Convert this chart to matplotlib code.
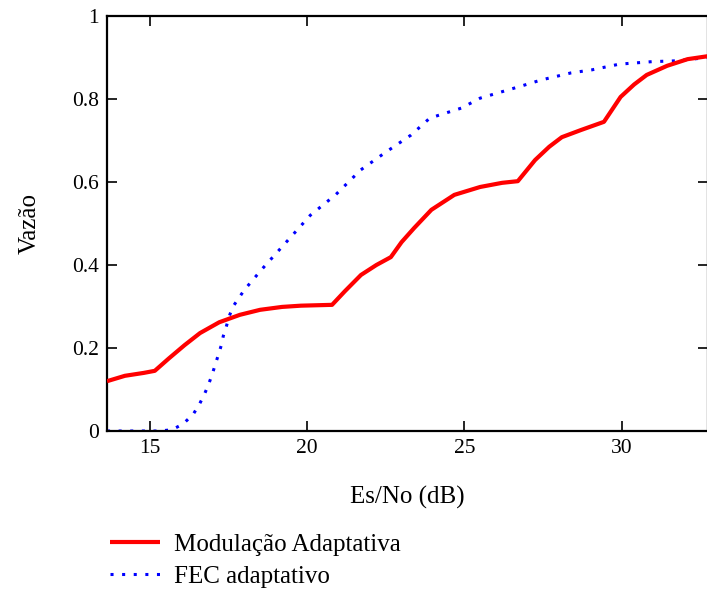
import matplotlib
matplotlib.use("Agg")
import matplotlib.pyplot as plt
import numpy as np

# Throughput vs Es/No for adaptive modulation and adaptive FEC
es_no_mod = [13.63, 14.2, 14.8, 15.15, 15.6, 16.1, 16.59, 17.2, 17.86, 18.5,
             19.2, 19.8, 20.79, 21.2, 21.71, 22.2, 22.66, 23.0, 23.4, 23.95,
             24.68, 25.5, 26.2, 26.7, 27.25, 27.7, 28.1, 28.7, 29.44, 29.97,
             30.4, 30.8, 31.45, 32.1, 32.73]
vazao_mod = [0.120, 0.133, 0.140, 0.145, 0.175, 0.207, 0.236, 0.262, 0.280, 0.292,
             0.299, 0.302, 0.304, 0.337, 0.376, 0.400, 0.419, 0.455, 0.489, 0.533,
             0.569, 0.588, 0.598, 0.602, 0.653, 0.685, 0.708, 0.725, 0.745, 0.805,
             0.835, 0.858, 0.880, 0.896, 0.903]

es_no_fec = [13.63, 14.5, 15.3, 15.7, 16.05, 16.37, 16.56, 16.72, 16.85, 16.97,
             17.07, 17.17, 17.26, 17.33, 17.42, 17.51, 17.64, 18.0, 18.56, 19.45,
             20.1, 20.9, 21.7, 22.5, 23.3, 23.9, 24.9, 25.5, 26.8, 27.45,
             28.4, 29.04, 29.93, 30.97, 31.74, 32.73]
vazao_fec = [0.000, 0.000, 0.000, 0.003, 0.017, 0.040, 0.063, 0.087, 0.110, 0.135,
             0.159, 0.183, 0.205, 0.229, 0.250, 0.275, 0.300, 0.340, 0.390, 0.465,
             0.520, 0.569, 0.629, 0.672, 0.713, 0.754, 0.778, 0.802, 0.831, 0.846,
             0.863, 0.870, 0.884, 0.890, 0.892, 0.900]

x_ticks = [15, 20, 25, 30]
y_ticks = [0, 0.2, 0.4, 0.6, 0.8, 1]
y_tick_labels = ["0", "0.2", "0.4", "0.6", "0.8", "1"]

plt.rcParams["font.family"] = ["Liberation Serif", "DejaVu Serif"]

fig = plt.figure(figsize=(7.07, 5.90), dpi=100)
ax = fig.add_axes([107 / 707, 1 - 431 / 590, 601 / 707, 415 / 590])

ax.plot(es_no_mod, vazao_mod, color="#ff0000", lw=3.0, solid_capstyle="butt",
        label="Modulação Adaptativa", zorder=3)
ax.plot(es_no_fec, vazao_fec, color="#0000ff", lw=2.2,
        linestyle=(0, (1, 2.8)), dash_capstyle="butt",
        label="FEC adaptativo", zorder=2)

ax.set_xlim(13.63, 32.75)
ax.set_ylim(0, 1)
ax.set_xticks(x_ticks)
ax.set_xticklabels([str(t) for t in x_ticks])
ax.set_yticks(y_ticks)
ax.set_yticklabels(y_tick_labels)

ax.tick_params(direction="in", length=7.5, width=1.2, labelsize=15.5,
               top=True, right=True, pad=6, colors="black")
for sp in ax.spines.values():
    sp.set_linewidth(1.6)

ax.set_xlabel("Es/No (dB)", fontsize=18, labelpad=20)
ax.set_ylabel("Vazão", fontsize=18, labelpad=22)

leg = fig.legend(loc="upper left", bbox_to_anchor=(100 / 707, 1 - 523 / 590),
                 frameon=False, fontsize=18, handlelength=2.0,
                 handletextpad=0.55, labelspacing=0.38, borderaxespad=0)

fig.savefig("out.png", dpi=100)
